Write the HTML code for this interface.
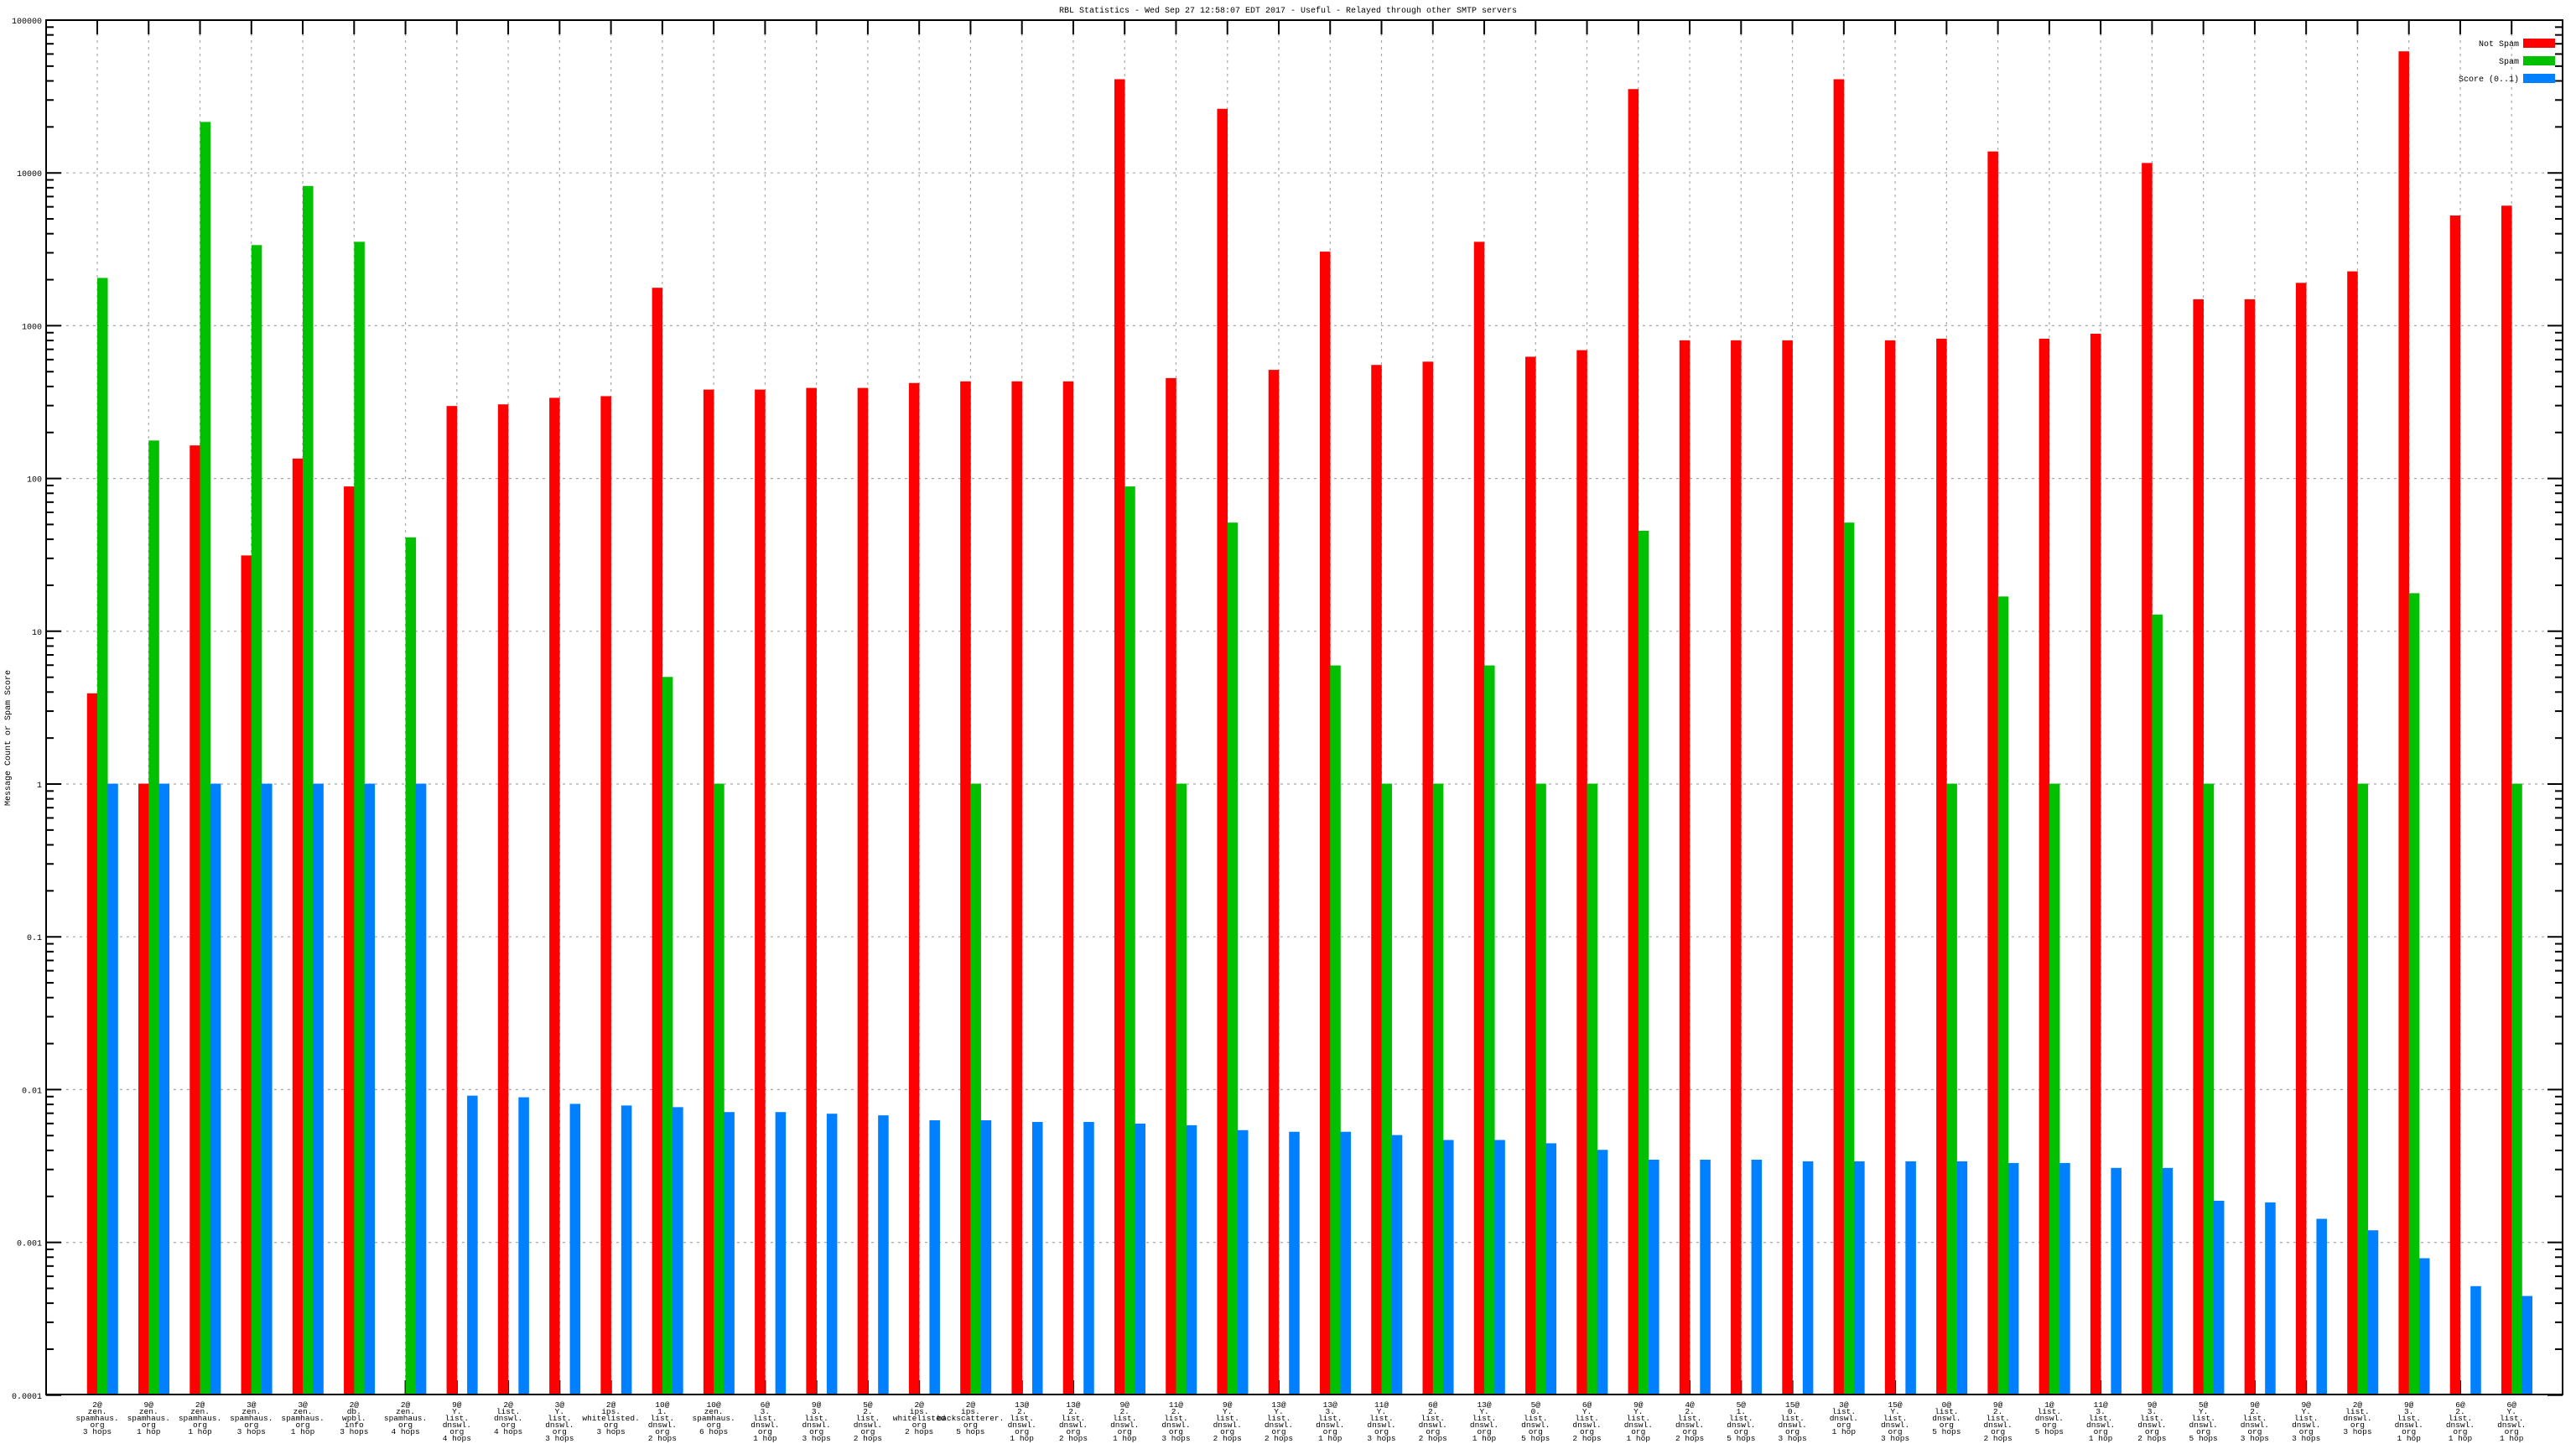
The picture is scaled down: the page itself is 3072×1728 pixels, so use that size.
<!DOCTYPE html>
<html><head><meta charset="utf-8"><style>
html,body{margin:0;padding:0;background:#fff;}
svg{display:block}
text{font-family:"Liberation Mono","DejaVu Sans Mono",monospace;font-size:10px;fill:#000}
</style></head><body>
<svg id="s" width="3072" height="1728" xmlns="http://www.w3.org/2000/svg"></svg>
<script>
const L=55,R=3056,T=24,B=1663,DEC=182.2;
const s=document.getElementById('s');let h='';
function yOf(v){return T+(5-v)*DEC;}
function yd(d){return 24+(d-12)*1.9582;}
for(let e=-4;e<=5;e++){const y=yOf(e);
 if(e>-4&&e<5) h+=`<line x1="${L}" y1="${y}" x2="${R}" y2="${y}" stroke="#a8a8a8" stroke-width="1.2" stroke-dasharray="3,5"/>`;
 const lab=e>=0?String(Math.pow(10,e)):(Math.pow(10,e)).toFixed(-e);
 h+=`<text x="50" y="${y+4}" text-anchor="end">${lab}</text>`;
 h+=`<line x1="${L}" y1="${y}" x2="${L+18}" y2="${y}" stroke="#000" stroke-width="2"/><line x1="${R}" y1="${y}" x2="${R-18}" y2="${y}" stroke="#000" stroke-width="2"/>`;
 if(e<5)for(let m=2;m<=9;m++){const yy=y-Math.log10(m)*DEC;
  h+=`<line x1="${L}" y1="${yy}" x2="${L+9}" y2="${yy}" stroke="#000" stroke-width="2"/><line x1="${R}" y1="${yy}" x2="${R-9}" y2="${yy}" stroke="#000" stroke-width="2"/>`;}
}
const labels=[
"2@|zen.|spamhaus.|org|3 hops","9@|zen.|spamhaus.|org|1 hop","2@|zen.|spamhaus.|org|1 hop","3@|zen.|spamhaus.|org|3 hops","3@|zen.|spamhaus.|org|1 hop","2@|db.|wpbl.|info|3 hops","2@|zen.|spamhaus.|org|4 hops",
"9@|Y.|list.|dnswl.|org|4 hops","2@|list.|dnswl.|org|4 hops","3@|Y.|list.|dnswl.|org|3 hops","2@|ips.|whitelisted.|org|3 hops","10@|1.|list.|dnswl.|org|2 hops","10@|zen.|spamhaus.|org|6 hops",
"6@|3.|list.|dnswl.|org|1 hop","9@|3.|list.|dnswl.|org|3 hops","5@|2.|list.|dnswl.|org|2 hops","2@|ips.|whitelisted|org|2 hops","2@|ips.|backscatterer.|org|5 hops",
"13@|2.|list.|dnswl.|org|1 hop","13@|2.|list.|dnswl.|org|2 hops","9@|2.|list.|dnswl.|org|1 hop","11@|2.|list.|dnswl.|org|3 hops","9@|Y.|list.|dnswl.|org|2 hops","13@|Y.|list.|dnswl.|org|2 hops",
"13@|3.|list.|dnswl.|org|1 hop","11@|Y.|list.|dnswl.|org|3 hops","6@|2.|list.|dnswl.|org|2 hops","13@|Y.|list.|dnswl.|org|1 hop","5@|0.|list.|dnswl.|org|5 hops","6@|Y.|list.|dnswl.|org|2 hops",
"9@|Y.|list.|dnswl.|org|1 hop","4@|2.|list.|dnswl.|org|2 hops","5@|1.|list.|dnswl.|org|5 hops","15@|0.|list.|dnswl.|org|3 hops","3@|list.|dnswl.|org|1 hop","15@|Y.|list.|dnswl.|org|3 hops",
"0@|list.|dnswl.|org|5 hops","9@|2.|list.|dnswl.|org|2 hops","1@|list.|dnswl.|org|5 hops","11@|3.|list.|dnswl.|org|1 hop","9@|3.|list.|dnswl.|org|2 hops","5@|Y.|list.|dnswl.|org|5 hops",
"9@|2.|list.|dnswl.|org|3 hops","9@|Y.|list.|dnswl.|org|3 hops","2@|list.|dnswl.|org|3 hops","9@|3.|list.|dnswl.|org|1 hop","6@|2.|list.|dnswl.|org|1 hop","6@|Y.|list.|dnswl.|org|1 hop"];
const d=[[422,169,477],[477,268,477],[271,74,477],[338,149,477],[279,113,477],[296,147,477],[0,327,477],
[247,0,667],[246,0,668],[242,0,672],[241,0,673],[175,412,674],[237,477,677],[237,0,677],[236,0,678],[236,0,679],[233,0,682],[232,477,682],
[232,0,683],[232,0,683],[48,296,684],[230,477,685],[66,318,688],[225,0,689],[153,405,689],[222,477,691],[220,477,694],[147,405,694],
[217,477,696],[213,477,700],[54,323,706],[207,0,706],[207,0,706],[207,0,707],[48,318,707],[207,0,707],[206,477,707],[92,363,708],
[206,477,708],[203,0,711],[99,374,711],[182,477,731],[182,0,732],[172,0,742],[165,477,749],[31,361,766],[131,0,783],[125,477,789]];
const P=61.26,X0=116,W=12.25,cols=['#ff0000','#00c000','#0080ff'];
for(let i=0;i<48;i++){const x=X0+P*i;
 h+=`<line x1="${x}" y1="${T}" x2="${x}" y2="${B}" stroke="#a8a8a8" stroke-width="1.2" stroke-dasharray="3,5"/>`;
 h+=`<line x1="${x}" y1="${T}" x2="${x}" y2="${T+17}" stroke="#000" stroke-width="2"/><line x1="${x}" y1="${B}" x2="${x}" y2="${B-17}" stroke="#000" stroke-width="2"/>`;
 for(let k=0;k<3;k++){if(!d[i][k])continue;const y=yd(d[i][k]);
  h+=`<rect x="${x-W+k*W}" y="${y}" width="${W+0.3}" height="${B-y}" fill="${cols[k]}"/>`;}
 labels[i].split('|').forEach((t,j)=>{h+=`<text x="${x}" y="${1678+j*8}" text-anchor="middle" style="font-size:9.5px">${t}</text>`;});
}
h+=`<rect x="${L}" y="${T}" width="${R-L}" height="${B-T}" fill="none" stroke="#000" stroke-width="2"/>`;
h+=`<text x="1536" y="15" text-anchor="middle">RBL Statistics - Wed Sep 27 12:58:07 EDT 2017 - Useful - Relayed through other SMTP servers</text>`;
h+=`<text transform="translate(12,880) rotate(-90)" text-anchor="middle">Message Count or Spam Score</text>`;
[['Not Spam',46],['Spam',67],['Score (0..1)',88]].forEach((a,k)=>{
 h+=`<text x="3004" y="${a[1]+9}" text-anchor="end">${a[0]}</text><rect x="3009" y="${a[1]}" width="38" height="11" fill="${cols[k]}"/>`;});
s.innerHTML=h;
</script>
</body></html>
